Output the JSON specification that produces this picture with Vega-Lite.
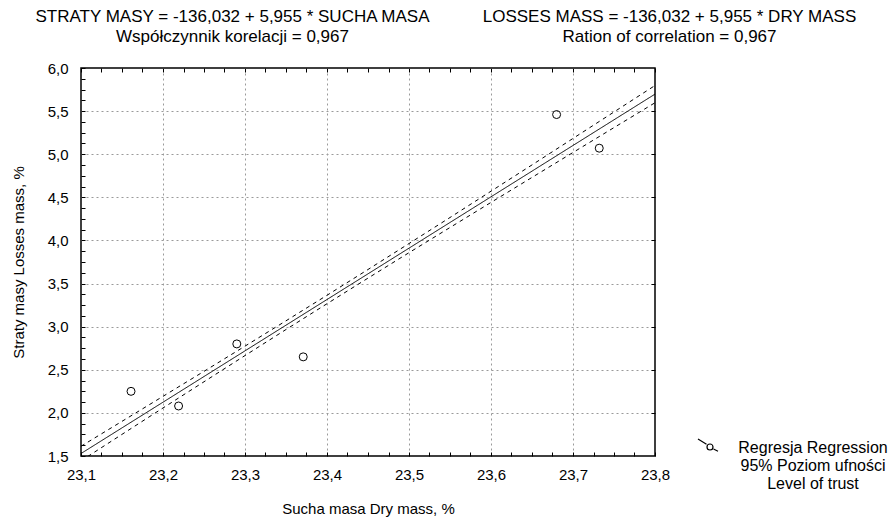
{
  "$schema": "https://vega.github.io/schema/vega-lite/v6.json",
  "width": 574,
  "height": 388,
  "autosize": {"type": "none"},
  "padding": {"left": 81, "top": 68, "right": 238, "bottom": 63},
  "background": "white",
  "config": {
    "view": {"stroke": "black", "strokeWidth": 1.5},
    "font": "Liberation Sans",
    "axis": {
      "labelFont": "Liberation Sans",
      "labelFontSize": 15,
      "labelColor": "black",
      "titleFont": "Liberation Sans",
      "titleFontSize": 15,
      "titleFontWeight": "normal",
      "titleColor": "black",
      "tickColor": "black",
      "tickSize": -4,
      "domain": false,
      "gridColor": "#9a9a9a",
      "gridDash": [2, 3],
      "labelOverlap": false,
      "labelFlush": false
    }
  },
  "datasets": {
    "pts": [
      {"x": 23.161, "y": 2.25, "series": "Regresja Regression"},
      {"x": 23.219, "y": 2.08, "series": "Regresja Regression"},
      {"x": 23.29, "y": 2.8, "series": "Regresja Regression"},
      {"x": 23.371, "y": 2.65, "series": "Regresja Regression"},
      {"x": 23.68, "y": 5.46, "series": "Regresja Regression"},
      {"x": 23.732, "y": 5.07, "series": "Regresja Regression"}
    ],
    "lines": [
      {"x": 23.1, "y": 1.5285, "series": "fit"},
      {"x": 23.8, "y": 5.697, "series": "fit"},
      {"x": 23.1, "y": 1.613, "series": "upper"},
      {"x": 23.15, "y": 1.902, "series": "upper"},
      {"x": 23.2, "y": 2.192, "series": "upper"},
      {"x": 23.25, "y": 2.482, "series": "upper"},
      {"x": 23.3, "y": 2.774, "series": "upper"},
      {"x": 23.35, "y": 3.068, "series": "upper"},
      {"x": 23.4, "y": 3.364, "series": "upper"},
      {"x": 23.45, "y": 3.663, "series": "upper"},
      {"x": 23.5, "y": 3.964, "series": "upper"},
      {"x": 23.55, "y": 4.266, "series": "upper"},
      {"x": 23.6, "y": 4.571, "series": "upper"},
      {"x": 23.65, "y": 4.876, "series": "upper"},
      {"x": 23.7, "y": 5.183, "series": "upper"},
      {"x": 23.75, "y": 5.49, "series": "upper"},
      {"x": 23.8, "y": 5.797, "series": "upper"},
      {"x": 23.1, "y": 1.444, "series": "lower"},
      {"x": 23.15, "y": 1.751, "series": "lower"},
      {"x": 23.2, "y": 2.057, "series": "lower"},
      {"x": 23.25, "y": 2.361, "series": "lower"},
      {"x": 23.3, "y": 2.665, "series": "lower"},
      {"x": 23.35, "y": 2.967, "series": "lower"},
      {"x": 23.4, "y": 3.266, "series": "lower"},
      {"x": 23.45, "y": 3.563, "series": "lower"},
      {"x": 23.5, "y": 3.858, "series": "lower"},
      {"x": 23.55, "y": 4.15, "series": "lower"},
      {"x": 23.6, "y": 4.441, "series": "lower"},
      {"x": 23.65, "y": 4.731, "series": "lower"},
      {"x": 23.7, "y": 5.02, "series": "lower"},
      {"x": 23.75, "y": 5.309, "series": "lower"},
      {"x": 23.8, "y": 5.597, "series": "lower"}
    ]
  },
  "layer": [
    {
      "data": {"name": "lines"},
      "mark": {"type": "line", "clip": true, "strokeWidth": 1, "color": "black"},
      "encoding": {
        "x": {
          "field": "x", "type": "quantitative",
          "scale": {"domain": [23.1, 23.8], "nice": false, "zero": false},
          "axis": {
            "values": [23.1, 23.125, 23.15, 23.175, 23.2, 23.225, 23.25, 23.275, 23.3, 23.325, 23.35, 23.375, 23.4, 23.425, 23.45, 23.475, 23.5, 23.525, 23.55, 23.575, 23.6, 23.625, 23.65, 23.675, 23.7, 23.725, 23.75, 23.775, 23.8],
            "labelExpr": "abs(datum.value*10 - round(datum.value*10)) < 0.001 ? replace(format(datum.value, '.1f'), '.', ',') : ''",
            "labelPadding": 15,
            "grid": true,
            "gridOpacity": {"condition": {"test": "abs(datum.value*10 - round(datum.value*10)) < 0.001 && datum.value > 23.15 && datum.value < 23.75", "value": 1}, "value": 0},
            "title": "Sucha masa Dry mass, %",
            "titleX": 287,
            "titleY": 52,
            "titleAlign": "center",
            "titleBaseline": "middle"
          }
        },
        "y": {
          "field": "y", "type": "quantitative",
          "scale": {"domain": [1.5, 6.0], "nice": false, "zero": false},
          "axis": {
            "values": [1.5, 1.625, 1.75, 1.875, 2, 2.125, 2.25, 2.375, 2.5, 2.625, 2.75, 2.875, 3, 3.125, 3.25, 3.375, 3.5, 3.625, 3.75, 3.875, 4, 4.125, 4.25, 4.375, 4.5, 4.625, 4.75, 4.875, 5, 5.125, 5.25, 5.375, 5.5, 5.625, 5.75, 5.875, 6],
            "labelExpr": "abs(datum.value*2 - round(datum.value*2)) < 0.001 ? replace(format(datum.value, '.1f'), '.', ',') : ''",
            "labelPadding": 17,
            "labelBaseline": "middle",
            "grid": true,
            "gridOpacity": {"condition": {"test": "abs(datum.value*2 - round(datum.value*2)) < 0.001 && datum.value > 1.6 && datum.value < 5.9", "value": 1}, "value": 0},
            "title": "Straty masy Losses mass, %",
            "titleAngle": -90,
            "titleX": -63,
            "titleY": 194,
            "titleAlign": "center",
            "titleBaseline": "middle"
          }
        },
        "detail": {"field": "series", "type": "nominal"},
        "strokeDash": {
          "field": "series", "type": "nominal",
          "scale": {"domain": ["fit", "lower", "upper"], "range": [[1, 0], [4, 4], [4, 4]]},
          "legend": null
        }
      }
    },
    {
      "data": {"name": "pts"},
      "mark": {"type": "point", "filled": false, "size": 64, "strokeWidth": 1, "opacity": 1},
      "encoding": {
        "x": {
          "field": "x", "type": "quantitative",
          "axis": {
            "orient": "top",
            "values": [23.1, 23.125, 23.15, 23.175, 23.2, 23.225, 23.25, 23.275, 23.3, 23.325, 23.35, 23.375, 23.4, 23.425, 23.45, 23.475, 23.5, 23.525, 23.55, 23.575, 23.6, 23.625, 23.65, 23.675, 23.7, 23.725, 23.75, 23.775, 23.8],
            "labels": false,
            "grid": false,
            "title": ["STRATY MASY = -136,032 + 5,955 * SUCHA MASA", "Współczynnik korelacji = 0,967"],
            "titleFontSize": 17,
            "titleLineHeight": 20,
            "titleX": 151,
            "titleY": -43,
            "titleAlign": "center",
            "titleBaseline": "bottom"
          }
        },
        "y": {
          "field": "y", "type": "quantitative",
          "axis": {
            "orient": "right",
            "values": [2, 2.5, 3, 3.5, 4, 4.5, 5, 5.5],
            "labels": false,
            "grid": false,
            "title": ["LOSSES MASS = -136,032 + 5,955 * DRY MASS", "Ration of correlation = 0,967"],
            "titleFontSize": 17,
            "titleLineHeight": 20,
            "titleAngle": 0,
            "titleX": 14,
            "titleY": -43,
            "titleAlign": "center",
            "titleBaseline": "bottom"
          }
        },
        "color": {
          "field": "series", "type": "nominal",
          "scale": {"range": ["black"]},
          "legend": {
            "orient": "none",
            "legendX": 616,
            "legendY": 361,
            "title": null,
            "padding": 0,
            "symbolType": "M-1,-0.1L-0.15,0.42M0.55,0.9L1,1.12M0.5,0.7A0.3,0.3 0 1,1 -0.1,0.7A0.3,0.3 0 1,1 0.5,0.7",
            "symbolSize": 400,
            "symbolFillColor": "transparent",
            "symbolStrokeColor": "black",
            "symbolStrokeWidth": 1.2,
            "labelExpr": "['Regresja Regression', '95% Poziom ufności', 'Level of trust']",
            "labelAlign": "center",
            "labelOffset": 94,
            "labelFont": "Liberation Sans",
            "labelFontSize": 16,
            "labelColor": "black",
            "labelBaseline": "top",
            "labelLimit": 0
          }
        }
      }
    }
  ],
  "resolve": {"axis": {"x": "independent", "y": "independent"}}
}
